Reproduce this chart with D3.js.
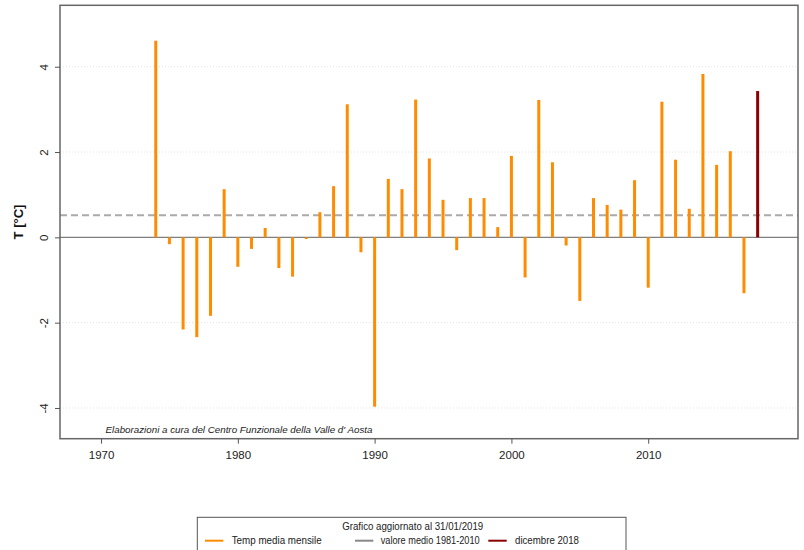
<!DOCTYPE html>
<html>
<head>
<meta charset="utf-8">
<script src="https://cdn.jsdelivr.net/npm/d3@7"></script>
<style>
  html, body { margin: 0; padding: 0; background: #fff; }
  svg { display: block; font-family: "Liberation Sans", Arial, Helvetica, sans-serif; }
</style>
</head>
<body>
<svg id="chart" width="804" height="550"></svg>
<script>
// ---- Data ----
const years = [1974,1975,1976,1977,1978,1979,1980,1981,1982,1983,1984,1985,1986,1987,1988,1989,1990,1991,1992,1993,1994,1995,1996,1997,1998,1999,2000,2001,2002,2003,2004,2005,2006,2007,2008,2009,2010,2011,2012,2013,2014,2015,2016,2017,2018];
const tempValues = [4.61,-0.16,-2.16,-2.34,-1.84,1.13,-0.69,-0.27,0.22,-0.72,-0.92,-0.04,0.59,1.20,3.12,-0.35,-3.97,1.37,1.13,3.23,1.85,0.88,-0.30,0.92,0.92,0.24,1.91,-0.94,3.22,1.76,-0.19,-1.49,0.92,0.76,0.65,1.34,-1.18,3.18,1.82,0.67,3.83,1.70,2.02,-1.31,3.43];
const highlightYear = 2018;
const meanValue = 0.52;
const xTicks = [1970,1980,1990,2000,2010];
const yTicks = [-4,-2,0,2,4];
const legendTitle = "Grafico aggiornato al 31/01/2019";
const legendLabels = ["Temp media mensile","valore medio 1981-2010","dicembre 2018"];
const yLabel = "T [°C]";
const credit = "Elaborazioni a cura del Centro Funzionale della Valle d' Aosta";

// ---- Layout ----
const svg = d3.select("#chart");
const L = 60, R = 798, T = 5.3, B = 438.7;
const x = d3.scaleLinear().domain([1967.0, 2020.95]).range([L, R]);
const y = d3.scaleLinear().domain([-4.72, 5.44]).range([B, T]);

const orange = "#ff8c00", darkred = "#8b0000";

// grid lines
svg.append("g").selectAll("line").data(yTicks).join("line")
  .attr("x1", L).attr("x2", R)
  .attr("y1", d => y(d)).attr("y2", d => y(d))
  .attr("stroke", "#e2e2e2").attr("stroke-width", 1).attr("stroke-dasharray", "1,2");

// zero line
svg.append("line").attr("x1", L).attr("x2", R).attr("y1", y(0)).attr("y2", y(0))
  .attr("stroke", "#808080").attr("stroke-width", 1.2);

// mean dashed line
svg.append("line").attr("x1", L).attr("x2", R).attr("y1", y(meanValue)).attr("y2", y(meanValue))
  .attr("stroke", "#aaaaaa").attr("stroke-width", 2).attr("stroke-dasharray", "7,4");

// bars (vertical lines)
svg.append("g").selectAll("line").data(years.map((yr, i) => ({yr, v: tempValues[i]}))).join("line")
  .attr("x1", d => x(d.yr)).attr("x2", d => x(d.yr))
  .attr("y1", y(0)).attr("y2", d => y(d.v))
  .attr("stroke", d => d.yr === highlightYear ? darkred : orange)
  .attr("stroke-width", 3);

// frame
svg.append("rect").attr("x", L).attr("y", T).attr("width", R - L).attr("height", B - T)
  .attr("fill", "none").attr("stroke", "#666").attr("stroke-width", 1.5);

// x axis
const xAxis = d3.axisBottom(x).tickValues(xTicks).tickFormat(d3.format("d")).tickSize(5).tickPadding(7);
const gx = svg.append("g").attr("transform", `translate(0,${B})`).call(xAxis);
gx.select(".domain").remove();
gx.selectAll("line").attr("stroke", "#555");
gx.selectAll("text").attr("font-size", 11.5).attr("fill", "#222").attr("font-family", "Liberation Sans, Arial, sans-serif");

// y axis
const yAxis = d3.axisLeft(y).tickValues(yTicks).tickSize(5).tickPadding(0).tickFormat(d => d < 0 ? "-" + Math.abs(d) : d);
const gy = svg.append("g").attr("transform", `translate(${L},0)`).call(yAxis);
gy.select(".domain").remove();
gy.selectAll("line").attr("stroke", "#555");
gy.selectAll("text")
  .attr("font-size", 11.5).attr("fill", "#222").attr("font-family", "Liberation Sans, Arial, sans-serif")
  .attr("x", 0).attr("dy", null)
  .attr("text-anchor", "middle")
  .attr("transform", "translate(-15,0) rotate(-90)")
  .attr("y", 0).attr("dominant-baseline", "middle");

// y label
svg.append("text").attr("transform", `translate(23,${(T + B) / 2}) rotate(-90)`)
  .attr("text-anchor", "middle").attr("font-weight", "bold").attr("font-size", 13)
  .attr("fill", "#111").text(yLabel);

// credit
svg.append("text").attr("x", 105.5).attr("y", 433).attr("font-style", "italic")
  .attr("font-size", 9.4).attr("fill", "#222")
  .attr("textLength", 267).attr("lengthAdjust", "spacingAndGlyphs").text(credit);

// legend
const lg = svg.append("g");
lg.append("rect").attr("x", 197.3).attr("y", 517.3).attr("width", 428.7).attr("height", 40)
  .attr("fill", "#fff").attr("stroke", "#555").attr("stroke-width", 1);
lg.append("text").attr("x", 412.7).attr("y", 529.5).attr("text-anchor", "middle")
  .attr("font-size", 10).attr("fill", "#222")
  .attr("textLength", 141).attr("lengthAdjust", "spacingAndGlyphs").text(legendTitle);
const items = [
  {x1: 205, x2: 223.3, tx: 231.7, w: 90, color: orange},
  {x1: 355, x2: 373.3, tx: 380.7, w: 99, color: "#888888"},
  {x1: 488.3, x2: 506.7, tx: 515, w: 64, color: darkred}
];
items.forEach((it, i) => {
  lg.append("line").attr("x1", it.x1).attr("x2", it.x2).attr("y1", 540.7).attr("y2", 540.7)
    .attr("stroke", it.color).attr("stroke-width", 2);
  lg.append("text").attr("x", it.tx).attr("y", 544.2).attr("font-size", 10).attr("fill", "#222")
    .attr("textLength", it.w).attr("lengthAdjust", "spacingAndGlyphs").text(legendLabels[i]);
});
</script>
</body>
</html>
